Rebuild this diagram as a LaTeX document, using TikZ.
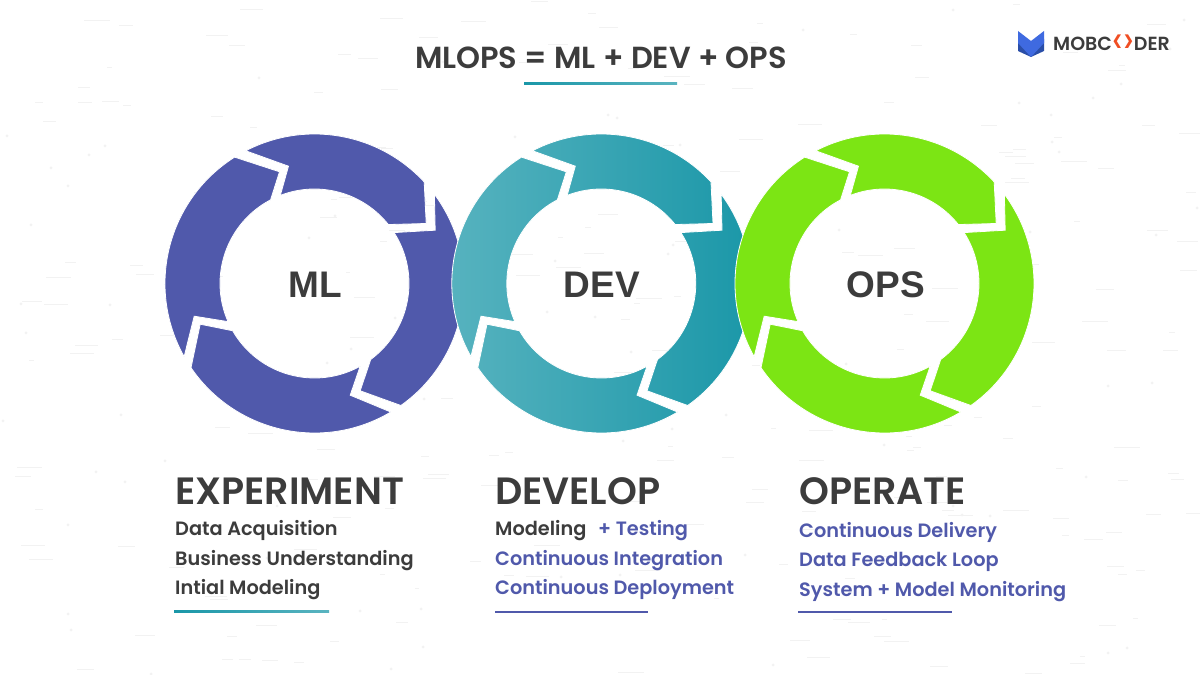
\documentclass[tikz,border=0pt]{standalone}
\usepackage{xcolor}
\usepackage{graphicx}
\usepackage{fontspec}
\setmainfont{Poppins}[BoldFont={Poppins SemiBold}]
\newfontfamily\ringfont{Liberation Sans}
\definecolor{inkGrey}{HTML}{3C3C3C}
\definecolor{mlBlue}{HTML}{5059AB}
\definecolor{devLight}{HTML}{5AB4C0}
\definecolor{devDark}{HTML}{1A97A8}
\definecolor{opsGreen}{HTML}{7CE514}
\definecolor{speck}{HTML}{F2F2F2}
\definecolor{logoBlue}{HTML}{3F6AE0}
\definecolor{logoDark}{HTML}{2A4EA8}
\definecolor{logoOrange}{HTML}{F04E23}
% the four arrows of one ring, around (0,0)
\newcommand{\ringSegs}{
 (117.4:149.5) -- (-26,117.3) -- (111.2:94.5) arc[start angle=111.2,end angle=38.6,radius=94.5]
 -- (111.7,60) -- (42.8:149.5) arc[start angle=42.8,end angle=117.4,radius=149.5] -- cycle
 (36.7:149.5) -- (120.7,53.3) -- (32.6:94.5) arc[start angle=32.6,end angle=-53.5,radius=94.5]
 -- (45.7,-107.3) -- (-54.7:149.5) arc[start angle=-54.7,end angle=36.7,radius=149.5] -- cycle
 (-59.3:149.5) -- (35.7,-111.7) -- (-61.1:94.5) arc[start angle=-61.1,end angle=-150,radius=94.5]
 -- (-114.3,-40.7) -- (-145.7:149.5) arc[start angle=-145.7,end angle=-59.3,radius=149.5] -- cycle
 (209.3:149.5) -- (-120.3,-32.7) -- (203.8:94.5) arc[start angle=203.8,end angle=117.7,radius=94.5]
 -- (-35,111.7) -- (122.3:149.5) arc[start angle=122.3,end angle=209.3,radius=149.5] -- cycle
}
\begin{document}
\begin{tikzpicture}
[x=1pt,y=1pt,
 ringDecorate/.style={draw=white,line width=0.8pt},
 ringLabel/.style={font=\ringfont\bfseries\fontsize{37}{37}\selectfont,text=inkGrey,anchor=base,inner sep=0pt},
 headLabel/.style={font=\bfseries\fontsize{38}{38}\selectfont,text=inkGrey,anchor=base west,inner sep=0pt},
 itemLabel/.style={font=\bfseries\fontsize{19.3}{19.3}\selectfont,text=inkGrey,anchor=base west,inner sep=0pt},
 itemBlue/.style={itemLabel,text=mlBlue},
 ruleLine/.style={line width=2pt}]

 \useasboundingbox (0,0) rectangle (1200,675);
 \fill[white] (0,0) rectangle (1200,675);

 % paper texture
 \pgfmathsetseed{42}
 \foreach \i in {1,...,260}
 {
          \pgfmathsetmacro{\px}{random(0,1200)}
          \pgfmathsetmacro{\py}{random(0,675)}
          \pgfmathsetmacro{\pw}{random(4,26)}
          \fill[speck] (\px,\py) rectangle ++(\pw,1);
 }
 \foreach \i in {1,...,90}
 {
          \pgfmathsetmacro{\px}{random(0,1200)}
          \pgfmathsetmacro{\py}{random(0,675)}
          \fill[speck] (\px,\py) circle (1.5);
 }

 % title
 \node (title) at (601,606) [font=\bfseries\fontsize{30.5}{30.5}\selectfont,text=inkGrey,anchor=base,inner sep=0pt] {MLOPS = ML + DEV + OPS};
 \coordinate (titleL) at (524,591);
 \coordinate (titleR) at (677,591);
 \shade[left color=devDark,right color=devLight] ([yshift=-1pt]titleL) rectangle ([yshift=1pt]titleR);

 % logo
 \fill[logoDark] (1018,636) -- (1018,624) -- (1031,618) -- (1044,624) -- (1044,636) -- (1031,625) -- cycle;
 \fill[logoBlue] (1018,644) -- (1031,634) -- (1044,644) -- (1044,632) -- (1031,618) -- (1018,632) -- cycle;
 \node (logo) at (1053,624.5) [font=\bfseries\fontsize{19}{19}\selectfont,text=inkGrey,anchor=base west,inner sep=0pt] {MOBC\raisebox{-1.6pt}{\scalebox{1}[1.6]{\textcolor{logoOrange}{<>}}}DER};

 % rings
 \path[ringDecorate,fill=mlBlue,shift={(314.5,391.5)}] \ringSegs;
 \path[ringDecorate,left color=devLight,right color=devDark,shift={(601.3,391.5)}] \ringSegs;
 \path[ringDecorate,fill=opsGreen,shift={(884.5,391.5)}] \ringSegs;

 \node (ml) at (315,377.5) [ringLabel] {ML};
 \node (dev) at (602,377.5) [ringLabel] {DEV};
 \node (ops) at (886,377.5) [ringLabel] {OPS};

 % columns
 \node (expHead) at (175,170.5) [headLabel] {EXPERIMENT};
 \node (expA) at (175,139) [itemLabel] {Data Acquisition};
 \node (expB) at (175,109.7) [itemLabel] {Business Understanding};
 \node (expC) at (175,80) [itemLabel] {Intial Modeling};
 \coordinate (expL) at (174,63);
 \coordinate (expR) at (329,63);
 \shade[left color=devDark,right color=devLight] ([yshift=-1pt]expL) rectangle ([yshift=1pt]expR);

 \node (devHead) at (495,170.5) [headLabel] {DEVELOP};
 \node (devA) at (495,139) [itemLabel] {Modeling};
 \node (devAb) at (598,139) [itemBlue] {+ Testing};
 \node (devB) at (495,109.7) [itemBlue] {Continuous Integration};
 \node (devC) at (495,80) [itemBlue] {Continuous Deployment};
 \coordinate (devL) at (495,63);
 \coordinate (devR) at (648,63);
 \draw[ruleLine,mlBlue] (devL) -- (devR);

 \node (opsHead) at (799,170.5) [headLabel] {OPERATE};
 \node (opsA) at (799,137.7) [itemBlue] {Continuous Delivery};
 \node (opsB) at (799,108.3) [itemBlue] {Data Feedback Loop};
 \node (opsC) at (799,78.3) [itemBlue] {System + Model Monitoring};
 \coordinate (opsL) at (798,63);
 \coordinate (opsR) at (952,63);
 \draw[ruleLine,mlBlue] (opsL) -- (opsR);
\end{tikzpicture}
\end{document}
